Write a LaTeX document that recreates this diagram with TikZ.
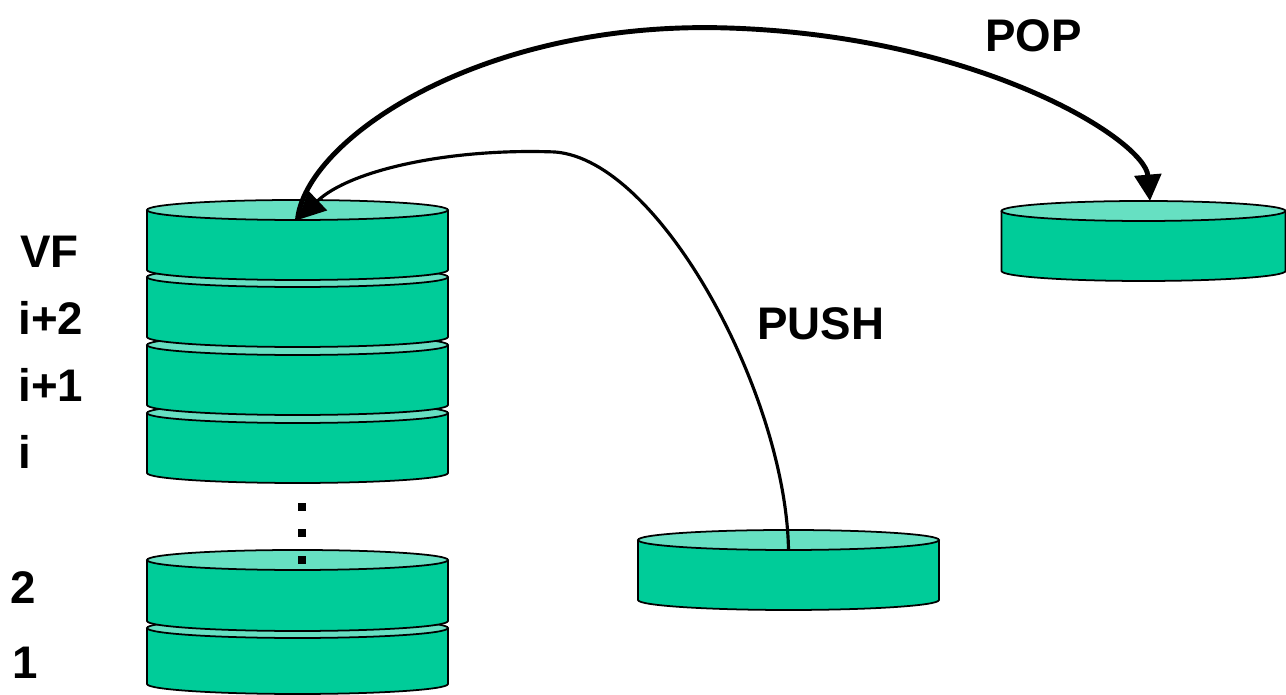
\documentclass[tikz,border=0pt]{standalone}
\usepackage{fontspec}
\setmainfont{Liberation Sans}
\usetikzlibrary{arrows.meta}
\definecolor{platterside}{HTML}{00CC99}
\definecolor{plattertop}{HTML}{66E0C2}

% #1 name of the rim point, #2 centre x, #3 y of top face centre,
% #4 y of bottom face centre, #5 horizontal radius
\newcommand{\platter}[5]{%
  \fill[platterside] (#2-#5,#3) -- (#2-#5,#4)
     arc[start angle=180,end angle=360,x radius=#5,y radius=10] -- (#2+#5,#3) -- cycle;
  \draw[platterline] (#2-#5,#3) -- (#2-#5,#4)
     arc[start angle=180,end angle=360,x radius=#5,y radius=10] -- (#2+#5,#3);
  \filldraw[platterline,fill=plattertop] (#2,#3) ellipse[x radius=#5,y radius=10];
  \coordinate (#1) at (#2,#3-10);
}

\tikzset{
  platterline/.style={line width=1pt,black},
  pushline/.style={line width=1.8pt,-{Triangle[length=16pt,width=15pt]}},
  popline/.style={line width=2.8pt,-{Triangle[length=15pt,width=15pt]}},
  lbl/.style={inner sep=0pt,anchor=base west,font=\fontsize{26}{30}\selectfont\bfseries},
  dot/.style={fill=black}
}

\begin{document}
\begin{tikzpicture}[x=0.02cm,y=0.02cm]
\useasboundingbox (0,0) rectangle (1286,695);

% main stack, drawn from the bottom up
\platter{itop}{297.5}{282}{222}{150.5}
\platter{ionetop}{297.5}{350}{290}{150.5}
\platter{itwotop}{297.5}{418}{358}{150.5}
\platter{vftop}{297.5}{485}{425}{150.5}
\platter{onetop}{297.5}{67}{11}{150.5}
\platter{twotop}{297.5}{135}{74}{150.5}

% platter waiting to be pushed and the popped one
\platter{pushtop}{788.5}{155}{95}{150.5}
\platter{poptop}{1143.5}{484}{424}{142}
\coordinate (poprim) at (1150,494);

% ellipsis between the two groups
\fill[dot] (298,184) rectangle (306,192);
\fill[dot] (298,158) rectangle (306,166);
\fill[dot] (298,131) rectangle (306,139);

% operations
\draw[pushline] (pushtop) .. controls (786,300) and (660,535) .. (555,543)
   .. controls (450,547) and (350,525) .. (vftop);
\draw[popline] (vftop) .. controls (305,555) and (480,675) .. (728,667)
   .. controls (980,659) and (1145,555) .. (poprim);

% labels
\node[lbl] (lvf) at (20,427) {VF};
\node[lbl] (lip2) at (18,360) {i+2};
\node[lbl] (lip1) at (18,293) {i+1};
\node[lbl] (li) at (18,226) {i};
\node[lbl] (ltwo) at (10,91) {2};
\node[lbl] (lone) at (12,16) {1};
\node[lbl] (lpush) at (757,355) {PUSH};
\node[lbl] (lpop) at (985,643) {POP};
\end{tikzpicture}
\end{document}
